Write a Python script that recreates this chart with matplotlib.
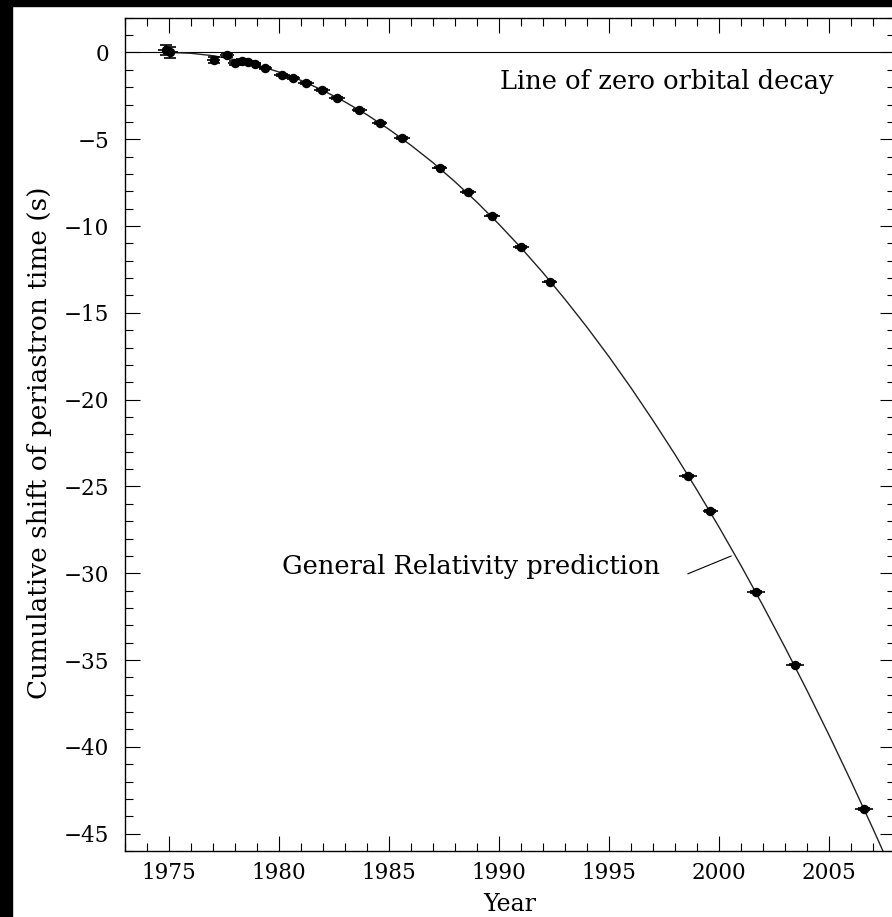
import matplotlib
matplotlib.use("Agg")
import matplotlib.pyplot as plt
from matplotlib.patches import Rectangle
from matplotlib.ticker import MultipleLocator

# measured periastron shifts (year, seconds)
obs_year = [1974.85, 1975.05, 1977.03, 1977.64, 1978.0, 1978.3, 1978.6, 1978.9,
            1979.38, 1980.14, 1980.62, 1981.23, 1981.95, 1982.64, 1983.65,
            1984.58, 1985.59, 1987.3, 1988.59, 1989.68, 1991.0, 1992.3,
            1998.6, 1999.6, 2001.67, 2003.45, 2006.6]
obs_shift = [0.15, 0.0, -0.43, -0.14, -0.62, -0.48, -0.58, -0.67,
             -0.92, -1.31, -1.48, -1.75, -2.17, -2.61, -3.33,
             -4.07, -4.94, -6.63, -8.05, -9.4, -11.2, -13.2,
             -24.4, -26.4, -31.07, -35.26, -43.56]
obs_yerr = [0.3, 0.3, 0.17, 0.12, 0.1, 0.08, 0.08, 0.08,
            0.06, 0.06, 0.06, 0.05, 0.05, 0.05, 0.05,
            0.05, 0.05, 0.05, 0.05, 0.05, 0.05, 0.05,
            0.05, 0.05, 0.05, 0.05, 0.05]
obs_xerr = [0.35, 0.35, 0.3, 0.3, 0.3, 0.3, 0.3, 0.3,
            0.3, 0.35, 0.35, 0.35, 0.35, 0.35, 0.35,
            0.35, 0.35, 0.35, 0.35, 0.35, 0.35, 0.35,
            0.4, 0.35, 0.4, 0.4, 0.4]

# general relativity prediction curve
gr_year = [1975, 1976, 1977, 1978, 1979, 1980, 1981, 1982, 1983, 1984,
           1985, 1986, 1987, 1988, 1989, 1990, 1991, 1992, 1993, 1994,
           1995, 1996, 1997, 1998, 1999, 2000, 2001, 2002, 2003, 2004,
           2005, 2006, 2007, 2008]
gr_shift = [0.0, -0.05, -0.19, -0.42, -0.73, -1.13, -1.61, -2.19, -2.85, -3.59,
            -4.43, -5.35, -6.35, -7.45, -8.63, -9.90, -11.25, -12.69, -14.22, -15.83,
            -17.53, -19.32, -21.20, -23.16, -25.21, -27.34, -29.56, -31.87, -34.27, -36.75,
            -39.32, -41.98, -44.72, -47.55]

fig = plt.figure(figsize=(8.92, 9.17), dpi=100)
ax = fig.add_axes([125 / 892, 66 / 917, 770 / 892, 833.3 / 917])

serif = "DejaVu Serif"

ax.axhline(0, color="black", lw=0.8)
ax.plot(gr_year, gr_shift, color="#222222", lw=1.0)

ax.errorbar(obs_year, obs_shift, xerr=obs_xerr, fmt="none", ecolor="black",
            elinewidth=1.2, capsize=0)
ax.errorbar(obs_year, obs_shift, yerr=obs_yerr, fmt="o", color="black",
            ms=5.8, ecolor="black", elinewidth=1.2, capsize=4, capthick=1.2)

ax.text(1990.05, -2.12, "Line of zero orbital decay", fontsize=18.5,
        family=serif, va="baseline", ha="left")
ax.text(1980.14, -30.07, "General Relativity prediction", fontsize=18.5,
        family=serif, va="baseline", ha="left")
ax.plot([1998.59, 2000.55], [-30.03, -29.01], color="black", lw=0.8)

ax.set_xlim(1973, 2008)
ax.set_ylim(-46, 2)
ax.xaxis.set_major_locator(MultipleLocator(5))
ax.xaxis.set_minor_locator(MultipleLocator(1))
ax.yaxis.set_major_locator(MultipleLocator(5))
ax.yaxis.set_minor_locator(MultipleLocator(1))
ax.tick_params(which="both", direction="in", top=True, right=True,
               width=0.8, color="black")
ax.tick_params(which="major", length=11, labelsize=15.5)
ax.tick_params(axis="x", which="major", pad=8)
ax.tick_params(axis="y", which="major", pad=11.5)
ax.tick_params(which="minor", length=5.5)
for lab in ax.get_xticklabels() + ax.get_yticklabels():
    lab.set_family(serif)
for sp in ax.spines.values():
    sp.set_linewidth(1.0)

ax.set_xlabel("Year", fontsize=17, family=serif)
ax.set_ylabel("Cumulative shift of periastron time (s)", fontsize=19,
              family=serif)
ax.xaxis.set_label_coords(0.5, -0.05)
ax.yaxis.set_label_coords(-0.095, 0.49)

# dark frame along the top and left edges
fig.patches.append(Rectangle((0, 1 - 6 / 917), 1, 6 / 917,
                             transform=fig.transFigure, color="black", zorder=10))
fig.patches.append(Rectangle((0, 0), 12 / 892, 1,
                             transform=fig.transFigure, color="black", zorder=10))

fig.savefig("out.png", dpi=100)
